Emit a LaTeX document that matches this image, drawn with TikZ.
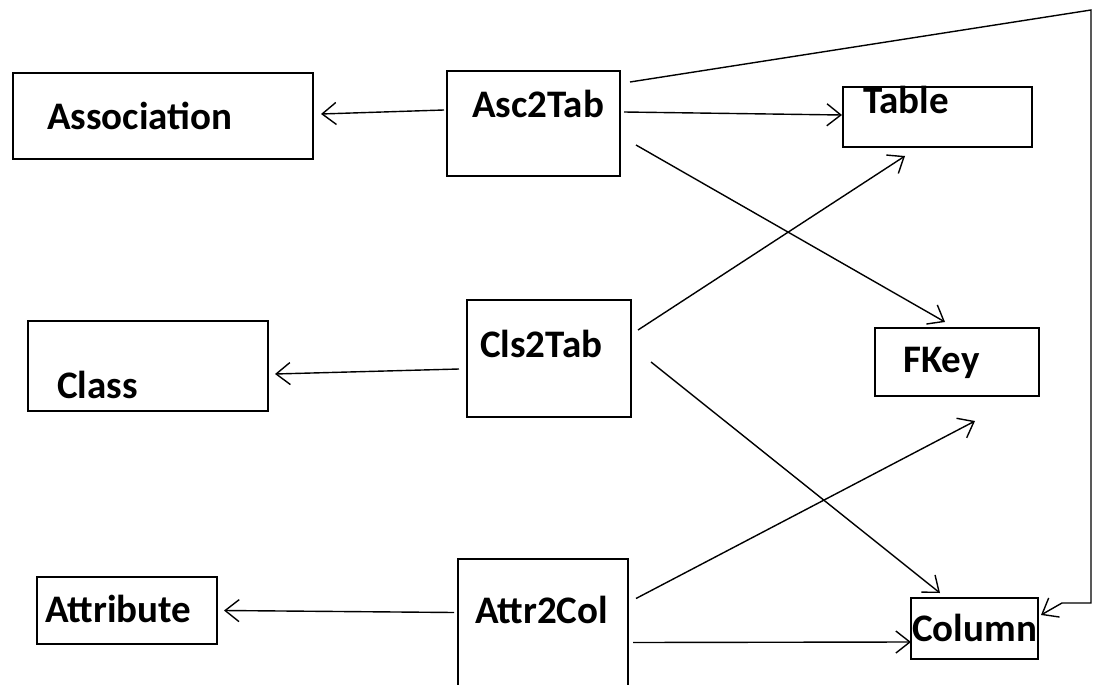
\documentclass[tikz,border=0pt]{standalone}
\usepackage{fontspec}
\setmainfont{Carlito}
\usetikzlibrary{arrows.meta}
\begin{document}
\begin{tikzpicture}[x=1pt,y=-1pt,
  box/.style={draw,line width=2pt,inner sep=0pt},
  lbl/.style={anchor=base west,inner sep=0pt,font=\fontsize{39}{44}\selectfont\bfseries},
  conn/.style={draw,line width=1.4pt,-{Straight Barb[length=14pt,width=22pt]}}]
\useasboundingbox[fill=white] (0,0) rectangle (1095,685);
% boxes
\node[box,minimum width=300pt,minimum height=86pt] (assoc) at (163,116) {};
\node[box,minimum width=173pt,minimum height=105pt] (asc) at (533.5,123.5) {};
\node[box,minimum width=189pt,minimum height=60pt] (table) at (937.5,117) {};
\node[box,minimum width=240pt,minimum height=90pt] (cls) at (148,366) {};
\node[box,minimum width=164pt,minimum height=117pt] (clst) at (549,358.5) {};
\node[box,minimum width=164pt,minimum height=68pt] (fkey) at (957,362) {};
\node[box,minimum width=180pt,minimum height=67pt] (attr) at (127,610.5) {};
\node[box,minimum width=170pt,minimum height=130pt] (attrc) at (543,624) {};
\node[box,minimum width=127pt,minimum height=61pt] (col) at (974.5,628.5) {};
% labels
\node[lbl] (assocT) at (47,129) {Association};
\node[lbl] (ascT) at (472,117) {Asc2Tab};
\node[lbl] (tableT) at (863,113) {Table};
\node[lbl] (clsT) at (57,398) {Class};
\node[lbl] (clstT) at (480,357) {Cls2Tab};
\node[lbl] (fkeyT) at (903,372) {FKey};
\node[lbl] (attrT) at (45,622) {Attribute};
\node[lbl] (attrcT) at (475,623) {Attr2Col};
\node[lbl] (colT) at (912,641) {Column};
% connectors
\draw[conn] ([shift={(-2,-13.5)}]asc.west) -- ([shift={(7,-2)}]assoc.east);
\draw[conn] ([shift={(3,-11.5)}]asc.east) -- ([shift={(0,-2)}]table.west);
\draw[conn] ([shift={(15,21.5)}]asc.east) -- ([shift={(-12,-5)}]fkey.north);
\draw[conn] ([shift={(-7,10.5)}]clst.west) -- ([shift={(6,8)}]cls.east);
\draw[conn] ([shift={(6,-28.5)}]clst.east) -- ([shift={(-32.5,8)}]table.south);
\draw[conn] ([shift={(19,3.5)}]clst.east) -- ([shift={(-34.5,-4)}]col.north);
\draw[conn] ([shift={(-3,-11.5)}]attrc.west) -- ([shift={(6,0)}]attr.east);
\draw[conn] ([shift={(7,-25.5)}]attrc.east) -- ([shift={(18,24)}]fkey.south);
\draw[conn] ([shift={(4,18.5)}]attrc.east) -- ([shift={(1,13.5)}]col.west);
\coordinate (c1) at (1091,10);
\coordinate (c2) at (1091,603);
\coordinate (c3) at (1062,603);
\draw[conn] ([shift={(9,12)}]asc.north east) -- (c1) -- (c2) -- (c3) -- ([shift={(2,-13.5)}]col.east);
\end{tikzpicture}
\end{document}
